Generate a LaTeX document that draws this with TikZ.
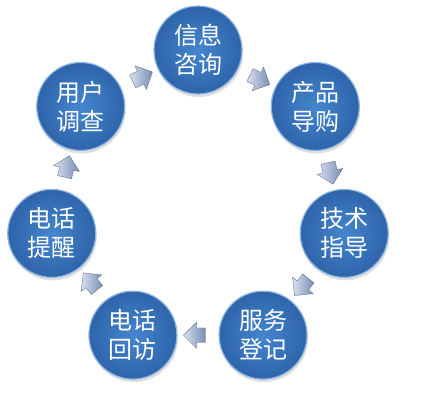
\documentclass[tikz,border=0pt]{standalone}
\usepackage{fontspec}
\newfontfamily\cjk{Noto Sans CJK SC}
\usetikzlibrary{shapes.arrows,shadows,calc}

\definecolor{ballBlue}{RGB}{68,134,206}
\definecolor{ballDark}{RGB}{46,100,170}
\definecolor{arrowLight}{RGB}{214,224,240}
\definecolor{arrowDark}{RGB}{120,142,180}

\begin{document}
\begin{tikzpicture}[x=1pt, y=1pt,
    ball/.style={circle, minimum size=88pt, inner sep=0pt,
      draw=ballBlue!60!white, line width=1.2pt,
      inner color=ballBlue, outer color=ballDark,
      text=white, font=\cjk\fontsize{24}{29}\selectfont, align=center,
      drop shadow={shadow xshift=1pt, shadow yshift=-3pt, opacity=0.25}},
    flow/.style={single arrow, minimum height=22pt,
      inner xsep=0pt, inner ysep=7pt,
      single arrow head extend=6pt,
      draw=arrowDark!70!black, line width=0.3pt,
      left color=arrowLight, right color=arrowDark}]

  \useasboundingbox (0,0) rectangle (432,-415);

  % ring of seven steps
  \coordinate (hub) at (198,-200);
  \foreach \name/\txt [count=\i from 0] in
      {xinxi/{信息\\咨询}, chanpin/{产品\\导购}, jishu/{技术\\指导},
       fuwu/{服务\\登记}, huifang/{电话\\回访}, tixing/{电话\\提醒},
       diaocha/{用户\\调查}}
    \node[ball] (\name) at ($(hub)+({90-\i*360/7}:150)$) {\txt};

  % block arrows between neighbours, clockwise
  \foreach \a/\b [count=\i from 0] in
      {xinxi/chanpin, chanpin/jishu, jishu/fuwu, fuwu/huifang,
       huifang/tixing, tixing/diaocha, diaocha/xinxi}
    \node[flow, rotate={-(\i+0.5)*360/7}] (arr\i) at ($(\a)!0.5!(\b)$) {};

\end{tikzpicture}
\end{document}
